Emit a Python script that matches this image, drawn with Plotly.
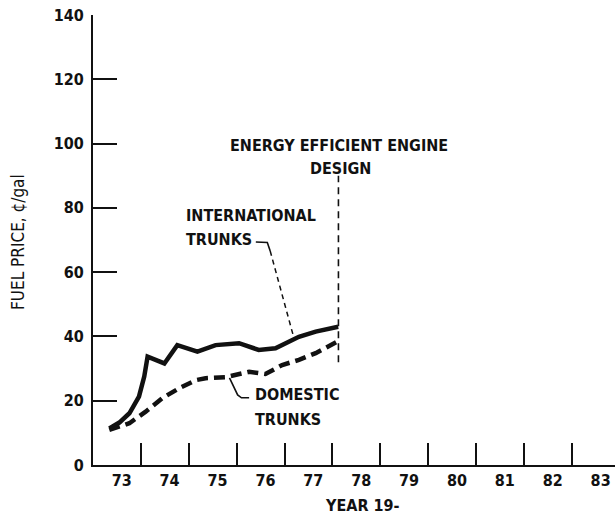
import plotly.graph_objects as go

# ---- data -------------------------------------------------------------
intl_years = [1973.34, 1973.55, 1973.76, 1973.96, 1974.07, 1974.14, 1974.49, 1974.76,
              1975.18, 1975.56, 1976.05, 1976.19, 1976.46, 1976.81, 1977.09, 1977.30,
              1977.65, 1978.12]
intl_price = [11.4, 13.2, 16.1, 21.3, 27.5, 33.7, 31.6, 37.3,
              35.3, 37.3, 37.9, 37.3, 35.8, 36.3, 38.4, 39.9,
              41.5, 43.0]

dom_years = [1973.34, 1973.76, 1974.10, 1974.45, 1974.80, 1975.15, 1975.35, 1975.77,
             1976.26, 1976.60, 1976.95, 1977.30, 1977.65, 1977.96, 1978.10]
dom_price = [10.9, 13.0, 16.6, 20.8, 23.9, 26.4, 27.0, 27.3,
             29.0, 28.3, 31.1, 32.7, 34.8, 37.3, 38.4]

year_ticks = list(range(1973, 1984))
year_labels = [str(y - 1900) for y in year_ticks]
price_ticks = list(range(0, 141, 20))

design_year = 1978.125

FONT = "DejaVu Sans Condensed, Liberation Sans Narrow, DejaVu Sans, sans-serif"
INK = "#111111"
WEIGHT = "bold"

fig = go.Figure()

fig.add_trace(go.Scatter(x=intl_years, y=intl_price, mode="lines",
                         line=dict(color=INK, width=4.5), hoverinfo="skip"))
fig.add_trace(go.Scatter(x=dom_years, y=dom_price, mode="lines",
                         line=dict(color=INK, width=4.5, dash="11px,6px"), hoverinfo="skip"))

# vertical dashed marker line
fig.add_shape(type="line", x0=design_year, x1=design_year, y0=32, y1=90,
              line=dict(color=INK, width=1.6, dash="7px,5px"))

# leader for INTERNATIONAL TRUNKS
fig.add_shape(type="path", path="M 1976.40,69.4 L 1976.64,69.2 L 1976.70,66.6",
              line=dict(color=INK, width=1.6))
fig.add_shape(type="line", x0=1976.70, y0=66.6, x1=1977.19, y1=39.8,
              line=dict(color=INK, width=1.5, dash="5px,4px"))

# leader for DOMESTIC TRUNKS
fig.add_shape(type="path", path="M 1975.85,27.1 L 1976.02,21.8 L 1976.10,20.9 L 1976.26,20.9",
              line=dict(color=INK, width=1.6))

def label(text, x, y, anchor="left", size=16):
    fig.add_annotation(text=text, x=x, y=y, xref="x", yref="y", xanchor=anchor,
                       yanchor="middle", showarrow=False,
                       font=dict(family=FONT, size=size, color=INK, weight=WEIGHT))

label("ENERGY EFFICIENT ENGINE", 1978.14, 99.4, "center")
label("DESIGN", 1978.16, 92.3, "center")
label("INTERNATIONAL", 1974.90, 77.5)
label("TRUNKS", 1974.90, 70.3)
label("DOMESTIC", 1976.35, 21.9)
label("TRUNKS", 1976.35, 14.2)

# axis titles
fig.add_annotation(text="FUEL PRICE, ¢/gal", xref="paper", yref="y", x=0, y=69.4,
                   xshift=-75, textangle=-90, xanchor="center", yanchor="middle",
                   showarrow=False, font=dict(family=FONT, size=17, color=INK, weight="normal"))
fig.add_annotation(text="YEAR 19-", xref="x", yref="paper", x=1978.63, y=0,
                   yshift=-40, xanchor="center", yanchor="middle",
                   showarrow=False, font=dict(family=FONT, size=16, color=INK, weight=WEIGHT))

fig.update_layout(
    width=615, height=517,
    margin=dict(l=93, r=0, t=15, b=52),
    paper_bgcolor="white", plot_bgcolor="white",
    showlegend=False,
    font=dict(family=FONT, size=16, color=INK, weight=WEIGHT),
    xaxis=dict(range=[1973, 1983.9], showgrid=False, zeroline=False,
               showline=True, linecolor=INK, linewidth=2,
               tickmode="array", tickvals=[y + 0.6 for y in year_ticks],
               ticktext=year_labels, ticks="", ticklabelstandoff=0,
               minor=dict(tickmode="array", tickvals=year_ticks[1:], ticks="inside",
                          ticklen=22, tickwidth=2, tickcolor=INK, showgrid=False)),
    yaxis=dict(range=[0, 140], showgrid=False, zeroline=False,
               showline=True, linecolor=INK, linewidth=2,
               tickmode="array", tickvals=price_ticks, ticks="inside",
               ticklen=24, tickwidth=2, tickcolor=INK, ticklabelstandoff=4),
)

# remove the page's default 8px body margin so the figure fills the window
fig.write_html("out.html", config={"displayModeBar": False},
               post_script="document.body.style.margin='0';")
